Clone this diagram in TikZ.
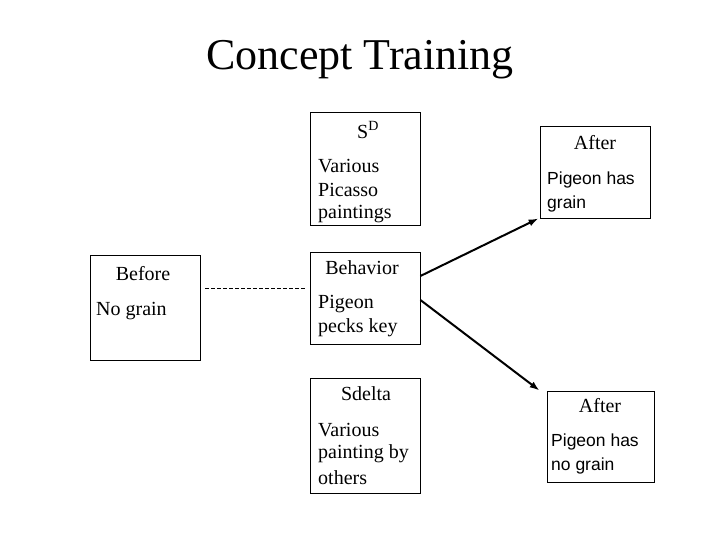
\documentclass[tikz,border=0pt]{standalone}
\usepackage{fontspec}
\setmainfont{Liberation Serif}
\setsansfont{Liberation Sans}
\usetikzlibrary{arrows.meta}
\tikzset{box/.style={draw, thick, minimum width=110pt, inner sep=0pt},
  txt/.style={anchor=west, inner sep=0pt, font=\fontsize{20pt}{24pt}\selectfont},
  stxt/.style={anchor=west, inner sep=0pt, font=\sffamily\fontsize{17.5pt}{20pt}\selectfont},
  head/.style={inner sep=0pt, font=\fontsize{20pt}{24pt}\selectfont},
  line/.style={draw, line width=2pt, -{Latex[length=10pt,width=7pt]}}}
\begin{document}
\begin{tikzpicture}[x=1pt, y=-1pt]
  \useasboundingbox (0,0) rectangle (720,540);
  \node [font=\fontsize{44pt}{50pt}\selectfont] (title) at (360,60) {Concept Training};

  \node [box, minimum height=113pt] (sd) at (365,168.5) {};
  \node [box, minimum height=92pt] (after1) at (595,172) {};
  \node [box, minimum height=105pt] (before) at (145,307.5) {};
  \node [box, minimum height=92pt] (beh) at (365,298) {};
  \node [box, minimum height=115pt] (sdelta) at (365,435.5) {};
  \node [box, minimum width=107pt, minimum height=91pt] (after2) at (600.5,436.5) {};

  \node [head] (sdh) at (368,130) {S\textsuperscript{D}};
  \node [txt] (sdt1) at (318,166) {Various};
  \node [txt] (sdt2) at (318,190) {Picasso};
  \node [txt] (sdt3) at (318,214) {paintings};

  \node [head] (a1h) at (595,143) {After};
  \node [stxt] (a1t1) at (547,180) {Pigeon has};
  \node [stxt] (a1t2) at (547,204) {grain};

  \node [head] (bh) at (143,274) {Before};
  \node [txt] (bt) at (96,311) {No grain};

  \node [head] (behh) at (362,268) {Behavior};
  \node [txt] (beht1) at (318,304) {Pigeon};
  \node [txt] (beht2) at (318,328) {pecks key};

  \node [head] (sdeh) at (366,394) {Sdelta};
  \node [txt] (sdet1) at (318,430) {Various};
  \node [txt] (sdet2) at (318,454) {painting by};
  \node [txt] (sdet3) at (318,478) {others};

  \node [head] (a2h) at (600,406) {After};
  \node [stxt] (a2t1) at (551,442) {Pigeon has};
  \node [stxt] (a2t2) at (551,466) {no grain};

  \coordinate (dl) at (205,288);
  \coordinate (dr) at (305,288);
  \draw [dash pattern=on 4pt off 2pt] (dl) -- (dr);

  \path [line] ([yshift=22pt]beh.east) -- ([xshift=-1pt]after1.south west);
  \path [line] ([yshift=-2pt]beh.east) -- ([xshift=-7pt]after2.north west);
\end{tikzpicture}
\end{document}
